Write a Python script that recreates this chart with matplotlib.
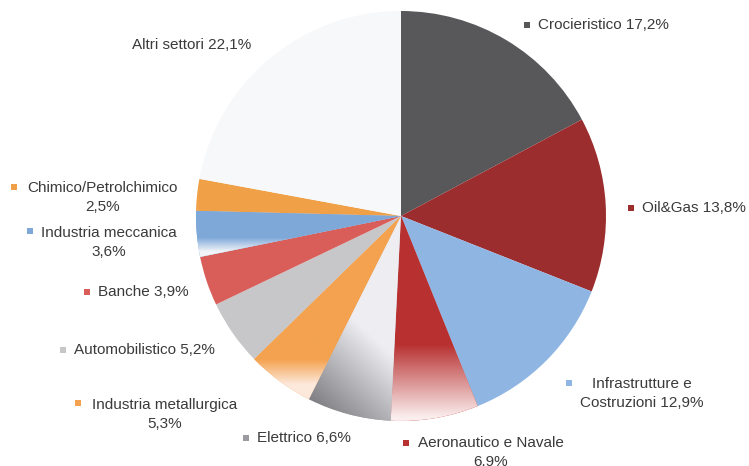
import numpy as np
import matplotlib
matplotlib.use("Agg")
import matplotlib.pyplot as plt
from matplotlib.colors import to_rgb

plt.rcParams['font.family'] = ['Liberation Sans', 'DejaVu Sans']

# ---- data ----
categories = ["Crocieristico", "Oil&Gas", "Infrastrutture e Costruzioni",
              "Aeronautico e Navale", "Elettrico", "Industria metallurgica",
              "Automobilistico", "Banche", "Industria meccanica",
              "Chimico/Petrolchimico", "Altri settori"]
values = [17.2, 13.8, 12.9, 6.9, 6.6, 5.3, 5.2, 3.9, 3.6, 2.5, 22.1]
label_texts = ["Crocieristico 17,2%", "Oil&Gas 13,8%",
               "Infrastrutture e\nCostruzioni 12,9%",
               "Aeronautico e Navale\n6,9%", "Elettrico 6,6%",
               "Industria metallurgica\n5,3%", "Automobilistico 5,2%",
               "Banche 3,9%", "Industria meccanica\n3,6%",
               "Chimico/Petrolchimico\n2,5%", "Altri settori 22,1%"]

# ---- style ----
colors = ["#58585b", "#9c2d2e", "#8fb5e3", "#b83131", "#a9a9ad", "#f4a24f",
          "#c7c7c9", "#d95e5a", "#7ea8d8", "#f0a046", "#f7f8fa"]
marker_colors = ["#58585b", "#9c2d2e", "#8fb5e3", "#b83131", "#9a9aa0", "#f4a24f",
                 "#c7c7c9", "#d95e5a", "#7ea8d8", "#f0a046", None]

W, H = 749, 466
CX, CY, R = 401, 216, 205


def px(x, y):
    return (x - CX) / R, (CY - y) / R


fig = plt.figure(figsize=(W / 100, H / 100), dpi=100)
ax = fig.add_axes([0, 0, 1, 1])
wedges, _ = ax.pie(values, colors=colors, startangle=90, counterclock=False,
                   radius=1.0, wedgeprops=dict(linewidth=0))
x0, y0 = px(0, 0)
x1, y1 = px(W, H)
ax.set_xlim(x0, x1)
ax.set_ylim(y1, y0)
ax.set_aspect('equal', adjustable='datalim')
ax.axis('off')

# gradient overlays
N = 500
gx = np.linspace(-1.05, 1.05, N)
gy = np.linspace(-1.05, 1.05, N)
GX, GY = np.meshgrid(gx, gy)
ext = (-1.05, 1.05, -1.05, 1.05)


def vertical_fade(c_top, c_bot, y_start, y_end):
    a = np.array(to_rgb(c_top))
    b = np.array(to_rgb(c_bot))
    t = np.clip((GY - y_start) / (y_end - y_start), 0, 1)[..., None]
    return a * (1 - t) + b * t


def add_img(img, wedge):
    im = ax.imshow(img, extent=ext, origin='lower', interpolation='bilinear', zorder=2)
    im.set_clip_path(wedge)

# Aeronautico e Navale: red fading to white towards bottom
add_img(vertical_fade("#b83131", "#fbeeee", px(0, 345)[1], px(0, 418)[1]), wedges[3])
# Industria metallurgica: orange fading near bottom
add_img(vertical_fade("#f4a24f", "#fde9dc", px(0, 360)[1], px(0, 385)[1]), wedges[5])
# Industria meccanica: blue fading at bottom edge
add_img(vertical_fade("#7ea8d8", "#f2f4f8", px(0, 238)[1], px(0, 252)[1]), wedges[8])
# Elettrico: grey diagonal gradient (dark lower-left -> light upper-right)
a = np.array(to_rgb("#6a6a6e"))
b = np.array(to_rgb("#eeeef2"))
u = (GX - px(310, 0)[0]) / (px(395, 0)[0] - px(310, 0)[0])
v = (GY - px(0, 425)[1]) / (px(0, 330)[1] - px(0, 425)[1])
t = np.clip(0.55 * u + 0.65 * v, 0, 1)[..., None]
add_img(a * (1 - t) + b * t, wedges[4])

# ---- labels (layout in pixel coordinates) ----
txt_color = "#3a3a3a"
fs = 11
# (marker x, marker y, text x, text y)
label_layout = [
    (527, 25, 538, 25),
    (631, 208, 642, 208),
    (569, 383, 580, 383),
    (406, 443, 418, 442),
    (246, 438, 257, 438),
    (78, 403, 92, 404),
    (63, 350, 74, 350),
    (87, 292, 98, 292),
    (30, 231, 41, 232),
    (14, 187, 27, 187),
    (None, None, 132, 45),
]
for i, (mx, my, tx, ty) in enumerate(label_layout):
    text = label_texts[i]
    if mx is not None:
        ax.plot(*px(mx, my), marker='s', markersize=4.3, color=marker_colors[i],
                markeredgewidth=0, zorder=5)
    if "\n" in text:
        ax.text(*px(tx, ty - 6), text, ha='left', va='top', multialignment='center',
                fontsize=fs, color=txt_color, linespacing=1.42, zorder=5)
    else:
        ax.text(*px(tx, ty), text, ha='left', va='center', fontsize=fs,
                color=txt_color, zorder=5)

fig.savefig("out.png", dpi=100)
